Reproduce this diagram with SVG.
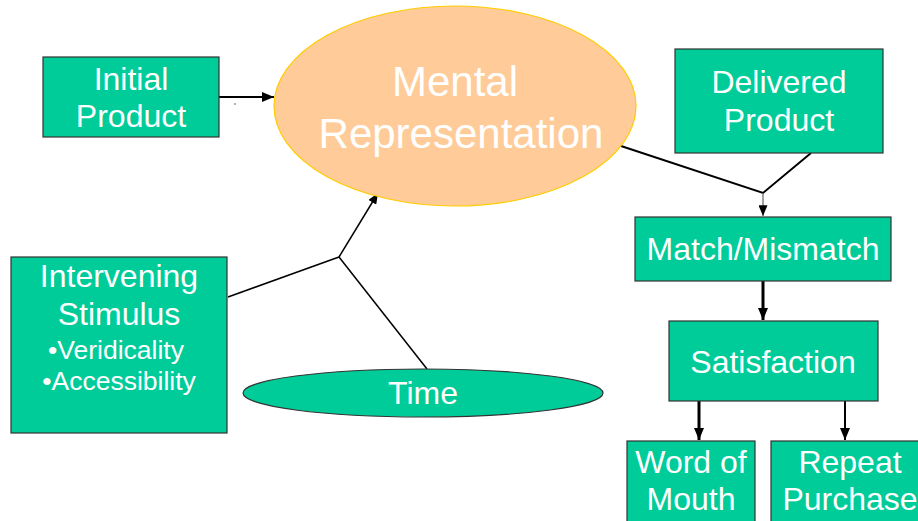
<svg xmlns="http://www.w3.org/2000/svg" width="918" height="521" viewBox="0 0 918 521">
<defs>
<style>
.box{fill:#00CC99;stroke:#333333;stroke-width:1.2}
.t{font-family:"Liberation Sans",Arial,sans-serif;fill:#FFFFFF;text-anchor:middle;font-size:32px}
.s{font-size:26.5px}
.big{font-size:42px}
.ln{stroke:#000000;fill:none}
</style>
<marker id="ah" viewBox="0 0 12 10" refX="12" refY="5" markerWidth="12" markerHeight="10" markerUnits="userSpaceOnUse" orient="auto">
<path d="M0,0 L12,5 L0,10 Z" fill="#000000"/>
</marker>
<marker id="ahs" viewBox="0 0 12 10" refX="12" refY="5" markerWidth="11" markerHeight="9" markerUnits="userSpaceOnUse" orient="auto">
<path d="M0,0 L12,5 L0,10 Z" fill="#000000"/>
</marker>
</defs>
<rect width="918" height="521" fill="#FFFFFF"/>

<g id="connectors">
<line class="ln" x1="219" y1="97" x2="274" y2="97" stroke-width="2.2" marker-end="url(#ah)"/>
<circle cx="235" cy="104" r="0.8" fill="#555555"/>
<polyline class="ln" points="228,297 339,257" stroke-width="1.5"/>
<polyline class="ln" points="427,369 339,257" stroke-width="1.5"/>
<line class="ln" x1="339" y1="257" x2="378" y2="193" stroke-width="1.5" marker-end="url(#ahs)"/>
<polyline class="ln" points="618,145 763,193 811,153" stroke-width="2"/>
<line x1="763" y1="193" x2="763" y2="216" stroke="#666666" stroke-width="1.2" marker-end="url(#ahs)"/>
<line class="ln" x1="763" y1="281" x2="763" y2="320" stroke-width="3" marker-end="url(#ah)"/>
<line class="ln" x1="699" y1="401" x2="699" y2="440" stroke-width="3" marker-end="url(#ah)"/>
<line class="ln" x1="845" y1="401" x2="845" y2="440" stroke-width="2" marker-end="url(#ah)"/>
</g>

<g id="initial-product">
<rect class="box" x="43" y="57" width="176" height="80"/>
<text class="t" x="131" y="90">Initial</text>
<text class="t" x="131" y="127">Product</text>
</g>

<g id="mental-representation">
<ellipse cx="455" cy="106" rx="181" ry="100" fill="#FFCC99" stroke="#FFCC00" stroke-width="1.2"/>
<text class="t big" x="455" y="96">Mental</text>
<text class="t big" x="461" y="148">Representation</text>
</g>

<g id="delivered-product">
<rect class="box" x="675" y="49" width="208" height="104"/>
<text class="t" x="779" y="93">Delivered</text>
<text class="t" x="779" y="131">Product</text>
</g>

<g id="match-mismatch">
<rect class="box" x="635" y="217" width="256" height="64"/>
<text class="t" x="763" y="260">Match/Mismatch</text>
</g>

<g id="satisfaction">
<rect class="box" x="669" y="321" width="209" height="80"/>
<text class="t" x="773" y="373">Satisfaction</text>
</g>

<g id="word-of-mouth">
<rect class="box" x="627" y="441" width="128" height="90"/>
<text class="t" x="691" y="473">Word of</text>
<text class="t" x="691" y="510">Mouth</text>
</g>

<g id="repeat-purchase">
<rect class="box" x="771" y="441" width="160" height="90"/>
<text class="t" x="850" y="473">Repeat</text>
<text class="t" x="850" y="510">Purchase</text>
</g>

<g id="intervening-stimulus">
<rect class="box" x="11" y="257" width="216" height="176"/>
<text class="t" x="119" y="287">Intervening</text>
<text class="t" x="119" y="325">Stimulus</text>
<text class="t s" x="116" y="359">•Veridicality</text>
<text class="t s" x="119" y="390">•Accessibility</text>
</g>

<g id="time">
<ellipse cx="423" cy="393" rx="180" ry="24" fill="#00CC99" stroke="#333333" stroke-width="1.2"/>
<text class="t" x="423" y="404">Time</text>
</g>
</svg>
